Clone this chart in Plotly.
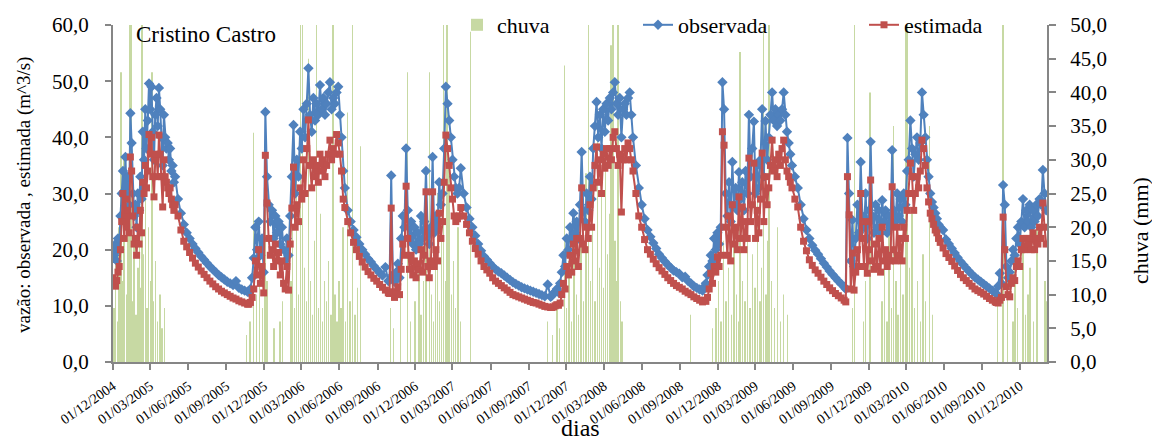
import pandas as pd
import plotly.graph_objects as go

# ---------------- data ----------------
# The flow series are read season by season: wet seasons every 3-4 days,
# dry-season recessions weekly. Each block: start date, step (days), values.

seg_inicio = ["2004-12-01", "2005-04-30", "2005-10-25", "2006-06-14", "2006-09-30",
              "2007-03-21", "2007-10-27", "2008-05-10", "2008-10-29", "2009-05-29",
              "2009-10-06", "2010-05-22", "2010-10-05"]
seg_passo_dias = [3, 7, 4, 7, 4, 7, 4, 7, 4, 7, 4, 7, 4]

obs_umido_2005 = [20, 19, 21, 18, 22, 20, 26, 30, 34, 26,
                  36.5, 30, 33, 28, 44.3, 39, 30, 26, 28, 24,
                  30, 27, 33, 29, 41, 36, 45, 38, 43, 49.6,
                  45, 49, 41, 36, 44, 47, 42, 48.8, 45, 40,
                  35, 44, 40, 38, 39, 36, 38, 34, 35, 32]
est_umido_2005 = [15, 14, 13.5, 14.5, 16, 17, 20, 25, 30, 22,
                  29, 24, 27, 23, 36.5, 34, 26, 21, 22, 19,
                  24, 21, 27, 23, 32, 30, 35, 31, 34, 40.5,
                  37, 40, 33, 29.4, 36, 37, 33, 40.4, 37, 33,
                  27.6, 36, 33, 32, 31, 30, 31, 29, 28, 27]

obs_seco_2005 = [33, 29, 26.5, 24.5, 23, 22, 21, 20.2, 19.5, 18.8,
                 18.2, 17.6, 17.0, 16.5, 16.0, 15.5, 15.1, 14.7, 14.3, 14.0,
                 13.7, 14.4, 13.2, 12.9, 12.7, 12.5]
est_seco_2005 = [28, 26, 23.5, 21.5, 20.5, 19.5, 18.5, 17.6, 16.9, 16.2,
                 15.6, 15.0, 14.4, 13.9, 13.4, 13.0, 12.6, 12.3, 12.0, 11.7,
                 11.4, 11.2, 10.9, 10.7, 10.5, 10.3]

obs_umido_2006 = [12.5, 13, 15, 18.5, 24, 20, 25, 19, 22, 16,
                  44.5, 33, 28, 25, 27, 22, 26, 23, 25, 21,
                  24, 20, 18, 22, 19, 26, 33, 42.2, 30, 36,
                  33, 41, 38, 45, 40, 46, 52.3, 44, 41, 47,
                  43, 46, 44, 49.3, 45, 47, 44, 46, 48, 49.8,
                  45, 47, 46, 48, 49, 44, 40, 34]
est_umido_2006 = [10.3, 10.6, 11.5, 13, 18, 15.5, 20, 14, 17, 12.3,
                  36.8, 28.3, 22, 19, 20, 17, 21, 18, 19.5, 15.5,
                  18, 14, 13, 17, 12.8, 21, 27.4, 34.7, 24, 28,
                  25, 31, 29, 36, 30, 38, 43.1, 35, 31, 36,
                  33, 35, 32, 37, 34, 36, 33, 35, 37, 39.5,
                  36, 38, 37, 40.5, 39, 37, 34, 29]

obs_seco_2006 = [31, 27, 25, 23.5, 22.2, 21, 20, 19.2, 18.4, 17.8,
                 17.1, 16.5, 15.9, 15.4, 16.9, 14.4]
est_seco_2006 = [27.5, 25, 23, 21.3, 20, 18.8, 17.8, 16.9, 16.1, 15.5,
                 14.9, 14.4, 13.8, 13.3, 12.8, 12.3]

obs_umido_2007 = [14.6, 33.2, 15.5, 14.3, 16, 17.5, 15, 22, 26, 24,
                  38, 27, 22, 25, 21, 24, 20, 23, 21, 26,
                  22, 25, 34, 23, 21, 24, 36.5, 23, 26, 24,
                  32, 28, 30, 38, 49, 46, 43, 40, 36, 33,
                  31, 30, 31]
est_umido_2007 = [12.2, 27.4, 12.5, 11.5, 12.4, 13.4, 12, 16.5, 21, 19,
                  31.3, 22, 16.5, 19, 15.5, 18, 15, 17.5, 16.4, 20,
                  16, 19, 30.3, 17, 15, 18, 30.3, 17, 20, 18,
                  26.5, 22, 25, 32, 40.4, 38, 35, 31, 29, 26,
                  25, 25.5, 26]

obs_seco_2007 = [34.5, 30, 27.5, 25.5, 24, 22.5, 21, 19.8, 18.8, 18.2,
                 17.6, 17.0, 16.5, 16.1, 15.8, 15.4, 15.0, 14.6, 14.2, 13.9,
                 13.6, 13.3, 13.1, 12.9, 12.7, 12.5, 12.3, 12.1, 11.9, 11.7,
                 13.8, 11.6]
est_seco_2007 = [27.5, 26, 24.5, 23, 21.5, 20.2, 19.2, 18, 17, 16.4,
                 15.8, 15.0, 14.4, 14.0, 13.6, 13.2, 12.8, 12.4, 12.0, 11.8,
                 11.6, 11.4, 11.2, 11.0, 10.8, 10.6, 10.5, 10.3, 10.1, 9.9,
                 9.8, 9.7]

obs_umido_2008 = [11.8, 12.2, 12.5, 13, 12.4, 14, 16, 19, 17, 22,
                  20, 24, 22, 26.5, 23, 25, 22, 28, 37.4, 27,
                  25, 30, 27, 33, 29, 38, 42, 46.3, 40, 44,
                  38, 45, 41, 46, 43, 47, 45, 48, 49.8, 46,
                  44, 47, 40, 45, 46, 44, 47, 48, 44]
est_umido_2008 = [9.7, 9.8, 10, 10.2, 10.1, 10.5, 12, 14, 13, 17,
                  15.5, 19, 16, 21, 18, 22, 17, 22, 31, 21,
                  20, 24, 22, 28, 24, 31, 35, 38.3, 32, 36,
                  30, 37, 34.5, 38, 35, 38, 36, 40, 41, 38,
                  35, 37, 26.7, 36, 38, 36, 39, 38, 36]

obs_seco_2008 = [40, 35, 31, 28, 25.5, 23.5, 22.3, 21.2, 20.2, 19.2,
                 18.5, 17.9, 17.3, 16.8, 16.3, 16.0, 15.7, 15.1, 15.2, 14.4,
                 14.0, 13.5, 13.2, 12.9, 12.7]
est_seco_2008 = [34, 30, 26, 24, 21.8, 20, 19.2, 18.3, 17.5, 16.8,
                 16.2, 15.6, 15.0, 14.5, 14.0, 13.6, 13.3, 13.0, 12.6, 12.3,
                 12.0, 11.6, 11.3, 11.0, 10.7]

obs_umido_2009 = [13.4, 14, 15.5, 17, 19, 18, 22, 20, 23, 21,
                  24, 49.8, 45, 30, 26, 32, 25, 35.6, 28, 31,
                  27, 33.8, 29, 32, 27, 34, 30, 44, 33, 38,
                  42.8, 30, 35, 31, 36, 45, 33, 42.9, 36, 40,
                  44, 48, 43, 45, 42, 44, 43, 45, 48, 44,
                  41, 39, 37]
est_umido_2009 = [11, 10.8, 11.5, 13, 15.8, 14, 17, 16, 18.7, 17,
                  19, 41, 38.6, 24, 19, 26, 18, 28, 21, 24,
                  20, 29.4, 22, 27.6, 20, 25, 22, 36.3, 25, 28,
                  35.4, 22, 27, 23, 29, 37.2, 25, 33, 28, 31,
                  35, 39.5, 34, 36, 33, 37, 35, 38, 39.5, 36,
                  34, 33, 32]

obs_seco_2009 = [35, 33, 31, 28, 25.5, 23.5, 22, 20.8, 19.9, 19.2,
                 18.4, 17.6, 16.9, 16.2, 15.6, 15.0, 14.4, 13.9, 13.4]
est_seco_2009 = [31, 29, 27.6, 24, 21.5, 19.8, 18.2, 17.2, 16.4, 15.8,
                 15.1, 14.4, 13.8, 13.2, 12.7, 12.2, 11.8, 11.4, 11.0]

obs_umido_2010 = [13, 39.9, 30, 18, 25.3, 17, 22, 28, 23, 35.6,
                  26, 24, 30, 22, 27, 39.2, 26, 23, 28, 24,
                  27, 23, 28.8, 25, 27, 23, 26, 24, 37.7, 27,
                  25, 30, 26, 29, 25, 30, 28, 34, 36, 43,
                  38, 33, 37, 40, 36, 39, 48, 44, 40, 36,
                  33, 30, 28.5, 27.5, 26.5, 25.5, 24.5]
est_umido_2010 = [10.7, 33, 26.2, 13, 19.4, 12.8, 16, 20, 17, 30,
                  22, 17, 25, 15.8, 20, 32.4, 18, 16.5, 21, 17,
                  22, 16, 24, 18, 20, 17, 19, 18, 31.2, 20,
                  18, 24, 19, 22, 18, 24, 22, 27, 30, 35.4,
                  33, 27, 30, 33, 31, 34, 39.5, 38, 35, 31,
                  28.5, 26.5, 25.5, 24.5, 23.5, 23, 22]

obs_seco_2010 = [24, 23.5, 21.8, 21, 20.2, 19.4, 18.6, 17.9, 17.3, 16.7,
                 16.1, 15.6, 15.1, 14.7, 14.3, 13.9, 13.5, 13.1, 12.7, 12.3]
est_seco_2010 = [21.3, 20.3, 19.3, 18.6, 17.9, 17.1, 16.3, 15.6, 15.0, 14.5,
                 14.0, 13.5, 13.0, 12.7, 12.4, 12.1, 11.7, 11.3, 11.0, 10.7]

obs_umido_2011 = [12.1, 13.5, 15.8, 14, 31.5, 28, 17, 15, 16, 18,
                  20, 19, 22, 24, 21, 25, 29, 24, 27, 25,
                  28, 24, 27, 25, 28, 26, 29, 28, 34.2, 30,
                  27]
est_umido_2011 = [10.6, 10.5, 11, 11.5, 25.8, 20, 13.4, 12, 11.6, 14,
                  15, 14.5, 17, 18, 17, 20, 22, 20, 22, 21,
                  22, 20, 23, 20, 22, 21, 24, 22, 28.3, 24,
                  21]

chuva_datas = [
    "2004-12-03", "2004-12-07", "2004-12-12", "2004-12-16", "2004-12-20", "2004-12-24",
    "2004-12-28", "2005-01-02", "2005-01-06", "2005-01-10", "2005-01-13", "2005-01-17",
    "2005-01-21", "2005-01-26", "2005-01-30", "2005-02-03", "2005-02-06", "2005-02-09",
    "2005-02-13", "2005-02-17", "2005-02-21", "2005-02-25", "2005-03-01", "2005-03-05",
    "2005-03-09", "2005-03-14", "2005-03-19", "2005-03-24", "2005-03-29", "2005-04-04",
    "2005-10-20", "2005-10-28", "2005-11-05", "2005-11-12", "2005-11-20", "2005-11-27",
    "2005-12-03", "2005-12-08", "2005-12-25", "2006-01-08", "2006-01-14", "2006-02-04",
    "2006-02-08", "2006-02-12", "2006-02-17", "2006-02-22", "2006-02-27", "2006-03-04",
    "2006-03-09", "2006-03-14", "2006-03-18", "2006-03-23", "2006-03-28", "2006-04-02",
    "2006-04-06", "2006-04-11", "2006-04-16", "2006-04-21", "2006-04-26", "2006-05-01",
    "2006-05-06", "2006-05-11", "2006-05-16", "2006-05-21", "2006-05-26", "2006-05-31",
    "2006-06-05", "2006-06-10", "2006-06-15", "2006-06-21", "2006-06-26", "2006-07-03",
    "2006-07-08", "2006-07-14", "2006-07-22",
    "2006-10-02", "2006-10-10", "2006-10-26", "2006-11-12", "2006-11-20", "2006-12-01",
    "2006-12-10", "2006-12-15", "2006-12-21", "2006-12-27", "2007-01-04", "2007-01-09",
    "2007-01-14", "2007-01-19", "2007-01-24", "2007-01-29", "2007-02-03", "2007-02-07",
    "2007-02-12", "2007-02-16", "2007-02-21", "2007-02-26", "2007-03-03", "2007-03-08",
    "2007-03-14", "2007-03-20", "2007-04-13",
    "2007-10-16", "2007-10-28", "2007-11-08", "2007-11-15", "2007-11-26", "2007-12-02",
    "2007-12-07", "2007-12-13", "2007-12-19", "2007-12-25", "2007-12-30", "2008-01-05",
    "2008-01-11", "2008-01-17", "2008-01-23", "2008-01-28", "2008-02-02", "2008-02-08",
    "2008-02-14", "2008-02-19", "2008-02-24", "2008-02-29", "2008-03-05", "2008-03-10",
    "2008-03-14", "2008-03-18", "2008-03-23", "2008-03-28", "2008-04-01", "2008-04-04",
    "2008-04-10", "2008-04-14",
    "2008-09-26", "2008-11-18", "2008-11-26", "2008-12-03", "2008-12-09", "2008-12-15",
    "2008-12-21", "2008-12-27", "2009-01-03", "2009-01-09", "2009-01-15", "2009-01-20",
    "2009-01-24", "2009-01-30", "2009-02-05", "2009-02-11", "2009-02-17", "2009-02-23",
    "2009-03-01", "2009-03-07", "2009-03-13", "2009-03-17", "2009-03-21", "2009-03-27",
    "2009-04-01", "2009-04-04", "2009-04-10", "2009-04-17", "2009-04-24", "2009-05-01",
    "2009-05-09", "2009-05-18",
    "2009-10-22", "2009-10-27", "2009-11-18", "2009-11-22", "2009-12-04", "2010-01-02",
    "2010-01-07", "2010-01-13", "2010-01-18", "2010-01-24", "2010-01-29", "2010-02-04",
    "2010-02-09", "2010-02-15", "2010-02-21", "2010-02-27", "2010-03-03", "2010-03-09",
    "2010-03-15", "2010-03-21", "2010-03-28", "2010-04-04", "2010-04-10", "2010-04-17",
    "2010-04-26", "2010-05-03",
    "2010-10-07", "2010-10-21", "2010-10-31", "2010-11-14", "2010-11-19", "2010-11-25",
    "2010-12-08", "2010-12-14", "2010-12-20", "2010-12-25", "2011-01-03", "2011-01-11",
    "2011-01-30", "2011-02-02",
]

chuva_mm = [
    8, 15, 6, 20, 43, 12,
    30, 10, 25, 55, 55, 9,
    18, 7, 14, 22, 11, 55,
    16, 28, 8, 20, 12, 43,
    9, 15, 6, 10, 5, 8,
    4, 6, 34, 10, 18, 8,
    25, 12, 5, 6, 9, 12,
    20, 8, 30, 10, 55, 55,
    14, 9, 45, 12, 7, 18,
    50, 8, 22, 6, 12, 9,
    15, 7, 55, 10, 6, 12,
    8, 20, 6, 37, 9, 55,
    7, 11, 32,
    8, 5, 10, 43, 6, 9,
    15, 7, 12, 20, 43, 10,
    6, 14, 25, 9, 18, 55,
    12, 55, 30, 10, 15, 8,
    20, 6, 49,
    6, 4, 9, 5, 44, 8,
    15, 6, 22, 10, 7, 18,
    9, 28, 55, 12, 20, 9,
    35, 14, 25, 11, 30, 16,
    22, 47, 55, 18, 12, 55,
    9, 6,
    7, 5, 8, 12, 6, 18,
    9, 14, 7, 20, 10, 6,
    46, 12, 9, 25, 8, 16,
    11, 30, 9, 14, 55, 10,
    18, 55, 12, 8, 20, 6,
    10, 7,
    8, 55, 6, 12, 40, 9,
    15, 6, 20, 8, 35, 12,
    7, 18, 10, 55, 55, 14,
    22, 8, 12, 6, 16, 9,
    35, 7,
    9, 55, 12, 6, 15, 8,
    18, 7, 10, 14, 6, 20,
    12, 9,
]

tick_vals = [
    "2004-12-01", "2005-03-01", "2005-06-01", "2005-09-01", "2005-12-01",
    "2006-03-01", "2006-06-01", "2006-09-01", "2006-12-01", "2007-03-01",
    "2007-06-01", "2007-09-01", "2007-12-01", "2008-03-01", "2008-06-01",
    "2008-09-01", "2008-12-01", "2009-03-01", "2009-06-01", "2009-09-01",
    "2009-12-01", "2010-03-01", "2010-06-01", "2010-09-01", "2010-12-01",
]
tick_labels = [
    "01/12/2004", "01/03/2005", "01/06/2005", "01/09/2005", "01/12/2005",
    "01/03/2006", "01/06/2006", "01/09/2006", "01/12/2006", "01/03/2007",
    "01/06/2007", "01/09/2007", "01/12/2007", "01/03/2008", "01/06/2008",
    "01/09/2008", "01/12/2008", "01/03/2009", "01/06/2009", "01/09/2009",
    "01/12/2009", "01/03/2010", "01/06/2010", "01/09/2010", "01/12/2010",
]

obs_blocos = [obs_umido_2005, obs_seco_2005, obs_umido_2006, obs_seco_2006,
              obs_umido_2007, obs_seco_2007, obs_umido_2008, obs_seco_2008,
              obs_umido_2009, obs_seco_2009, obs_umido_2010, obs_seco_2010,
              obs_umido_2011]
est_blocos = [est_umido_2005, est_seco_2005, est_umido_2006, est_seco_2006,
              est_umido_2007, est_seco_2007, est_umido_2008, est_seco_2008,
              est_umido_2009, est_seco_2009, est_umido_2010, est_seco_2010,
              est_umido_2011]

# assemble the axis positions of each reading
dias, observada, estimada = [], [], []
for inicio, passo, ob, es in zip(seg_inicio, seg_passo_dias, obs_blocos, est_blocos):
    assert len(ob) == len(es)
    datas = pd.date_range(inicio, periods=len(ob), freq=f"{passo}D")
    dias.extend(datas)
    observada.extend(ob)
    estimada.extend(es)
assert len(chuva_datas) == len(chuva_mm)

# ---------------- figure ----------------
FONT = "Liberation Serif"
AX = "#868686"
W, H = 1152, 444
ML, MR, MT, MB = 113, 105, 25, 82
PW, PH = W - ML - MR, H - MT - MB


def px_x(px):
    return (px - ML) / PW


def px_y(py):
    return (H - MB - py) / PH


fig = go.Figure()

fig.add_trace(go.Bar(
    x=chuva_datas, y=chuva_mm, name="chuva",
    marker=dict(color="#9BBB59", line=dict(width=0)),
    opacity=0.55, width=86400000 * 1.2, yaxis="y", legend="legend",
))
fig.add_trace(go.Scatter(
    x=dias, y=observada, name="observada", mode="lines+markers",
    line=dict(color="#4F81BD", width=2),
    marker=dict(symbol="diamond", size=8, color="#4F81BD"),
    yaxis="y2", legend="legend2",
))
fig.add_trace(go.Scatter(
    x=dias, y=estimada, name="estimada", mode="lines+markers",
    line=dict(color="#C0504D", width=2),
    marker=dict(symbol="square", size=7, color="#C0504D"),
    yaxis="y2", legend="legend3",
))

leg_common = dict(orientation="h", xanchor="left", yanchor="middle",
                  bgcolor="rgba(0,0,0,0)", borderwidth=0,
                  font=dict(family=FONT, size=22, color="black"))

fig.update_layout(
    width=W, height=H,
    margin=dict(l=ML, r=MR, t=MT, b=MB, autoexpand=False),
    paper_bgcolor="white", plot_bgcolor="white",
    separators=",.",
    showlegend=True,
    legend=dict(x=px_x(457), y=px_y(25), **leg_common),
    legend2=dict(x=px_x(638), y=px_y(25), **leg_common),
    legend3=dict(x=px_x(864), y=px_y(25), **leg_common),
    xaxis=dict(
        type="date", range=["2004-12-01", "2011-02-04"],
        tickvals=tick_vals, ticktext=tick_labels, tickangle=-35,
        ticks="outside", ticklen=6, tickcolor=AX, tickwidth=1.5,
        showline=True, linecolor=AX, linewidth=1.5,
        showgrid=False, zeroline=False, ticklabelstandoff=3,
        tickfont=dict(family=FONT, size=14, color="black"),
    ),
    yaxis=dict(
        side="right", range=[0, 50], dtick=5, tickformat=".1f",
        ticks="outside", ticklen=7, tickcolor=AX, tickwidth=1.5,
        showline=True, linecolor=AX, linewidth=2,
        showgrid=False, zeroline=False, ticklabelstandoff=10,
        tickfont=dict(family=FONT, size=21, color="black"),
    ),
    yaxis2=dict(
        overlaying="y", side="left", range=[0, 60], dtick=10, tickformat=".1f",
        ticks="outside", ticklen=6, tickcolor=AX, tickwidth=1.5,
        showline=True, linecolor=AX, linewidth=2,
        showgrid=False, zeroline=False, ticklabelstandoff=12,
        tickfont=dict(family=FONT, size=21, color="black"),
    ),
    annotations=[
        dict(text="Cristino Castro", xref="paper", yref="paper",
             x=px_x(134), y=px_y(34), xanchor="left", yanchor="middle",
             showarrow=False, font=dict(family=FONT, size=23, color="black")),
        dict(text="vazão: observada , estimada (m^3/s)", xref="paper", yref="paper",
             x=px_x(24), y=px_y(195), xanchor="center", yanchor="middle",
             textangle=-90, showarrow=False,
             font=dict(family=FONT, size=19, color="black")),
        dict(text="chuva (mm)", xref="paper", yref="paper",
             x=px_x(1140), y=px_y(231), xanchor="center", yanchor="middle",
             textangle=-90, showarrow=False,
             font=dict(family=FONT, size=22, color="black")),
        dict(text="dias", xref="paper", yref="paper",
             x=px_x(580), y=px_y(443), xanchor="center", yanchor="bottom",
             showarrow=False, font=dict(family=FONT, size=24, color="black")),
    ],
)

fig.write_html("out.html", config={"displayModeBar": False},
               post_script="document.body.style.margin='0';document.body.style.padding='0';")
